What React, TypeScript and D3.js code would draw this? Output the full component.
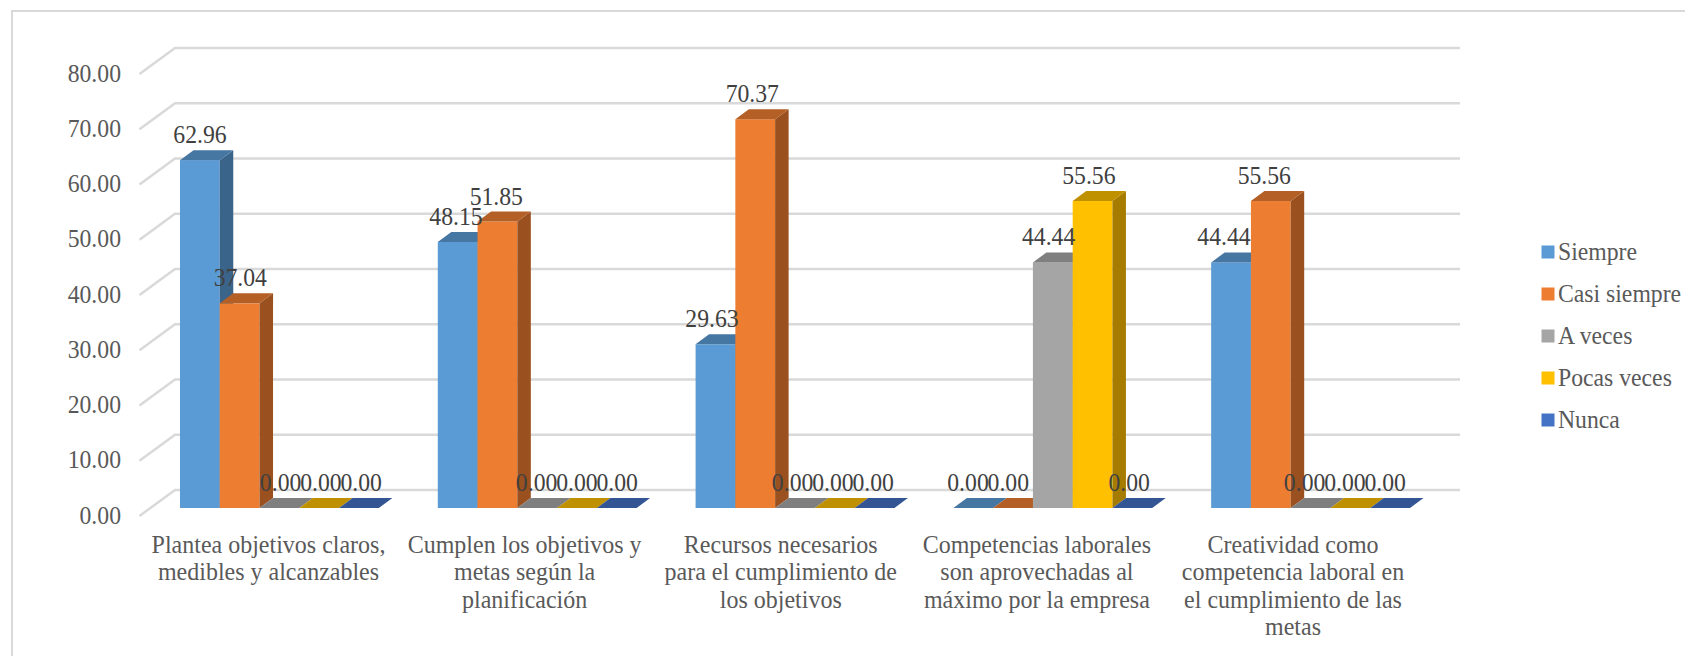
import React from "react";
import * as d3 from "d3";

// Survey results, percentage of answers per item and frequency level
const categories = [
  ["Plantea objetivos claros,", "medibles y alcanzables"],
  ["Cumplen los objetivos y", "metas según la", "planificación"],
  ["Recursos necesarios", "para el cumplimiento de", "los objetivos"],
  ["Competencias laborales", "son aprovechadas al", "máximo por la empresa"],
  ["Creatividad como", "competencia laboral en", "el cumplimiento de las", "metas"],
];
const seriesNames = ["Siempre", "Casi siempre", "A veces", "Pocas veces", "Nunca"];
const siempre = [62.96, 48.15, 29.63, 0, 44.44];
const casiSiempre = [37.04, 51.85, 70.37, 0, 55.56];
const aVeces = [0, 0, 0, 44.44, 0];
const pocasVeces = [0, 0, 0, 55.56, 0];
const nunca = [0, 0, 0, 0, 0];
const seriesValues = [siempre, casiSiempre, aVeces, pocasVeces, nunca];
const yTicks = [0, 10, 20, 30, 40, 50, 60, 70, 80];

const frontColors = ["#5b9bd5", "#ed7d31", "#a5a5a5", "#ffc000", "#4472c4"];
const sideColors = ["#3b648a", "#9a511f", "#6b6b6b", "#a67c00", "#2c4a7f"];
const topColors = ["#4676a2", "#b45f25", "#7f7f7f", "#bf9000", "#335593"];

const WIDTH = 1685;
const HEIGHT = 656;
const FONT = "'Liberation Serif', 'Times New Roman', serif";
const TEXT_COLOR = "#595959";
const LABEL_COLOR = "#404040";
const GRID = "#d9d9d9";

// Bar depth and wall depth of the 3D projection
const BAR_DX = 13.5;
const BAR_DY = -10;
const WALL_DX = 35.5;
const WALL_DY = -26;

const y = d3.scaleLinear().domain([0, 80]).range([508, 66]);
const wallY = d3.scaleLinear().domain([0, 80]).range([490, 48]);
const tickFrontY = d3.scaleLinear().domain([0, 80]).range([516, 74]);
const groupX = d3
  .scaleBand<number>()
  .domain(d3.range(categories.length))
  .range([180, 1410])
  .paddingInner(59 / 258);
const barX = d3
  .scaleBand<number>()
  .domain(d3.range(seriesNames.length))
  .range([0, groupX.bandwidth()]);
// Value labels run on their own grid: per item and per series within an item
const labelGroupX = d3.scaleLinear().domain([0, 4]).range([200, 1224]);
const labelSeriesDx = d3.scaleLinear().domain([0, 4]).range([0, 161.2]);
const categoryCenter = d3.scaleLinear().domain([0, 4]).range([268.5, 1293]);

const SX = 0.93;

function Stretched(props: {
  x: number;
  y: number;
  size: number;
  fill: string;
  anchor: string;
  children: React.ReactNode;
}) {
  return (
    <text
      transform={`translate(${props.x},${props.y}) scale(${SX},1)`}
      fontFamily={FONT}
      fontSize={props.size}
      fill={props.fill}
      textAnchor={props.anchor}
    >
      {props.children}
    </text>
  );
}

export default function App() {
  const bars = categories.flatMap((_, g) =>
    seriesNames.map((_, s) => {
      const v = seriesValues[s][g];
      const x0 = (groupX(g) as number) + (barX(s) as number);
      return { g, s, v, x0, x1: x0 + barX.bandwidth(), top: y(v), base: y(0) };
    })
  );
  return (
    <svg
      width={WIDTH}
      height={HEIGHT}
      viewBox={`0 0 ${WIDTH} ${HEIGHT}`}
      style={{ position: "absolute", left: 0, top: 0, background: "#fff" }}
    >
      <path d={`M12,${HEIGHT} V11 H${WIDTH}`} fill="none" stroke={GRID} strokeWidth={2} />

      {yTicks.map((t) => (
        <g key={t}>
          <path
            d={`M139.5,${wallY(t) - WALL_DY} L${139.5 + WALL_DX},${wallY(t)} H1460`}
            fill="none"
            stroke={GRID}
            strokeWidth={2.5}
          />
          <Stretched x={121} y={tickFrontY(t) + 7.5} size={25.5} fill={TEXT_COLOR} anchor="end">
            {d3.format(".2f")(t)}
          </Stretched>
        </g>
      ))}

      {bars.map((b) => (
        <g key={`${b.g}-${b.s}`}>
          {b.v > 0 && (
            <>
              <rect x={b.x0} y={b.top} width={b.x1 - b.x0} height={b.base - b.top} fill={frontColors[b.s]} />
              <path
                d={`M${b.x1},${b.top} l${BAR_DX},${BAR_DY} V${b.base + BAR_DY} L${b.x1},${b.base} Z`}
                fill={sideColors[b.s]}
              />
            </>
          )}
          <path
            d={`M${b.x0},${b.top} l${BAR_DX},${BAR_DY} H${b.x1 + BAR_DX} L${b.x1},${b.top} Z`}
            fill={topColors[b.s]}
          />
        </g>
      ))}

      {bars.map((b) => (
        <Stretched
          key={`label-${b.g}-${b.s}`}
          x={labelGroupX(b.g) + labelSeriesDx(b.s)}
          y={b.top + BAR_DY - 7}
          size={25.5}
          fill={LABEL_COLOR}
          anchor="middle"
        >
          {d3.format(".2f")(b.v)}
        </Stretched>
      ))}

      {categories.map((lines, g) => (
        <g key={g}>
          {lines.map((line, i) => (
            <Stretched key={i} x={categoryCenter(g)} y={553 + i * 27.3} size={25.8} fill={TEXT_COLOR} anchor="middle">
              {line}
            </Stretched>
          ))}
        </g>
      ))}

      {seriesNames.map((name, s) => (
        <g key={name}>
          <rect x={1541.5} y={245.5 + s * 42} width={13} height={13} fill={frontColors[s]} />
          <Stretched x={1558} y={260 + s * 42} size={25.5} fill={TEXT_COLOR} anchor="start">
            {name}
          </Stretched>
        </g>
      ))}
    </svg>
  );
}
